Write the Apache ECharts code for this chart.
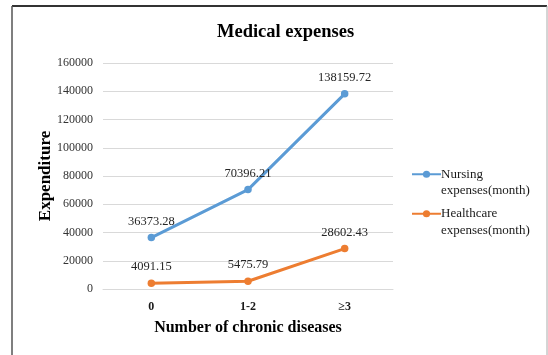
<!DOCTYPE html>
<html>
<head>
<meta charset="utf-8">
<script src="https://cdn.jsdelivr.net/npm/echarts@6/dist/echarts.min.js"></script>
<style>
html,body{margin:0;padding:0;background:#fff;}
#c{width:548px;height:355px;}
</style>
</head>
<body>
<div id="c"></div>
<script>
const categories = ['0', '1-2', '≥3'];
const nursing = [36373.28, 70396.21, 138159.72];
const healthcare = [4091.15, 5475.79, 28602.43];
const seriesNames = ['Nursing\nexpenses(month)', 'Healthcare\nexpenses(month)'];

const FONT = '"Liberation Serif", "Times New Roman", serif';
const chart = echarts.init(document.getElementById('c'), null, {renderer: 'canvas'});
chart.setOption({
  animation: false,
  textStyle: {fontFamily: FONT},
  title: {
    text: 'Medical expenses',
    left: 212,
    top: 18,
    textStyle: {fontFamily: FONT, fontSize: 18.5, fontWeight: 'bold', color: '#000'}
  },
  graphic: [
    {type: 'line', shape: {x1: 12, y1: 6, x2: 547, y2: 6}, style: {stroke: '#333', lineWidth: 2}},
    {type: 'line', shape: {x1: 12, y1: 6, x2: 12, y2: 355}, style: {stroke: '#555', lineWidth: 1.5}},
    {type: 'line', shape: {x1: 547, y1: 6, x2: 547, y2: 355}, style: {stroke: '#aaa', lineWidth: 1}}
  ],
  legend: {
    orient: 'vertical',
    left: 406,
    top: 144.5,
    itemWidth: 29,
    itemHeight: 9,
    itemGap: -10,
    formatter: name => '\n' + name,
    textStyle: {fontFamily: FONT, fontSize: 13, color: '#1a1a1a', lineHeight: 16.5, padding: [0, 0, 0, -5]},
    data: seriesNames
  },
  grid: {left: 103, right: 155, top: 63, bottom: 66},
  xAxis: {
    type: 'category',
    data: categories,
    axisLine: {lineStyle: {color: '#d9d9d9'}},
    axisTick: {show: false},
    axisLabel: {fontFamily: FONT, fontSize: 12, fontWeight: 'bold', color: '#1a1a1a', margin: 12},
    name: 'Number of chronic diseases',
    nameLocation: 'middle',
    nameGap: 31,
    nameMoveOverlap: false,
    nameTextStyle: {fontFamily: FONT, fontSize: 16, fontWeight: 'bold', color: '#000'}
  },
  yAxis: {
    type: 'value',
    min: 0,
    max: 160000,
    interval: 20000,
    axisLine: {show: false},
    axisTick: {show: false},
    splitLine: {lineStyle: {color: '#d9d9d9'}},
    axisLabel: {fontFamily: FONT, fontSize: 12, color: '#333', margin: 10, formatter: v => String(v)},
    name: 'Expenditure',
    nameLocation: 'middle',
    nameGap: 49,
    nameMoveOverlap: false,
    nameTextStyle: {fontFamily: FONT, fontSize: 17, fontWeight: 'bold', color: '#000'}
  },
  series: [
    {
      name: seriesNames[0],
      type: 'line',
      data: nursing,
      symbol: 'circle',
      symbolSize: 7.5,
      itemStyle: {color: '#5B9BD5'},
      lineStyle: {width: 3, color: '#5B9BD5'},
      label: {show: true, position: 'top', distance: 6, fontFamily: FONT, fontSize: 12.5, color: '#262626'}
    },
    {
      name: seriesNames[1],
      type: 'line',
      data: healthcare,
      symbol: 'circle',
      symbolSize: 7.5,
      itemStyle: {color: '#ED7D31'},
      lineStyle: {width: 3, color: '#ED7D31'},
      label: {show: true, position: 'top', distance: 6, fontFamily: FONT, fontSize: 12.5, color: '#262626'}
    }
  ]
});
</script>
</body>
</html>
